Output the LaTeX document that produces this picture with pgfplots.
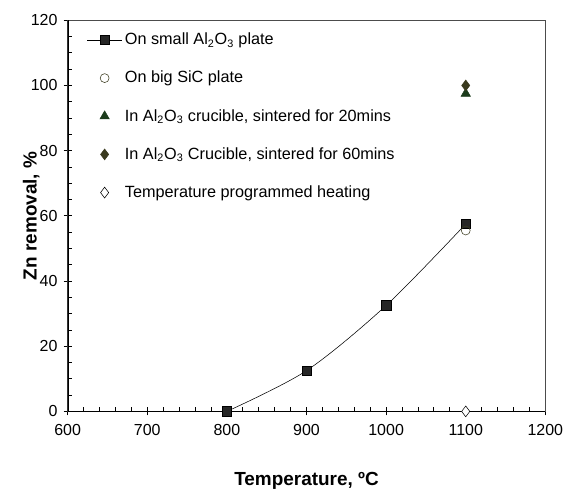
\documentclass[border=0pt]{standalone}
\usepackage{pgfplots}
\pgfplotsset{compat=1.18}
\usepackage{fontspec}
\setmainfont{Liberation Sans}
\definecolor{dkgreen}{HTML}{1B3B1B}
\definecolor{dkolive}{HTML}{3A3A1E}
\begin{document}
\begin{tikzpicture}
\begin{axis}[
    name=ax,
    scale only axis, width=353pt, height=289pt,
    xmin=600, xmax=1200, ymin=0, ymax=120,
    xtick={600,700,...,1200}, ytick={0,20,...,120},
    minor x tick num=4, minor y tick num=3,
    tick align=center, tickpos=left,
    major tick length=6pt, minor tick length=3pt,
    minor x tick style={yshift=1.5pt}, minor y tick style={xshift=1.5pt},
    tick style={black, line width=0.6pt},
    xlabel={\textbf{Temperature, ºC}}, ylabel={\textbf{Zn removal, \%}},
    every axis x label/.style={at={(axis description cs:0.5,0)}, yshift=-51pt, anchor=center},
    every axis y label/.style={at={(axis description cs:0,0.5)}, xshift=-27pt, anchor=center, rotate=90},
    label style={font=\fontsize{14}{16}\selectfont},
    tick label style={font=\fontsize{11.8}{14}\selectfont},
    xticklabel style={yshift=-3pt}, yticklabel style={xshift=-1pt},
    /pgf/number format/assume math mode=true,
    /pgf/number format/set thousands separator={},
    axis line style={black!70, line width=0.6pt},
    legend style={at={(0.04,0.975)}, anchor=north west, draw=none, fill=none, inner sep=0pt,
      font=\fontsize{12}{14}\selectfont, row sep=14pt, cells={anchor=west},
      nodes={inner xsep=2pt}},
    legend cell align=left,
    legend image code/.code={\draw[mark repeat=2,mark phase=2,#1] plot coordinates {(0cm,0cm) (0.45cm,0cm) (0.9cm,0cm)};},
]
\draw[black, line width=1.3pt] (rel axis cs:0,1) -- (rel axis cs:0,0) -- (rel axis cs:1,0);
\addplot[black, smooth, tension=0.5, mark=square*, mark size=3.5pt, mark options={fill=black!85}] coordinates {(800,0) (900,12.5) (1000,32.5) (1100,57.5)};
\addlegendentry{On small Al\textsubscript{2}O\textsubscript{3} plate}
\addplot[only marks, mark=o, mark size=3.3pt, draw=dkolive, fill=white] coordinates {(1100,55.5)};
\addlegendentry{On big SiC plate}
\addplot[only marks, mark=triangle*, mark size=4pt, color=dkgreen] coordinates {(1100,97.5)};
\addlegendentry{In Al\textsubscript{2}O\textsubscript{3} crucible, sintered for 20mins}
\addplot[only marks, mark=diamond*, mark size=4pt, color=dkolive] coordinates {(1100,100)};
\addlegendentry{In Al\textsubscript{2}O\textsubscript{3} Crucible, sintered for 60mins}
\addplot[only marks, mark=diamond*, mark size=4pt, draw=black, fill=white] coordinates {(1100,0)};
\addlegendentry{Temperature programmed heating}
\end{axis}
\pgfresetboundingbox
\path[use as bounding box] ([xshift=-50pt,yshift=-68pt]ax.south west) rectangle ([xshift=16pt,yshift=15pt]ax.north east);
\end{tikzpicture}
\end{document}
